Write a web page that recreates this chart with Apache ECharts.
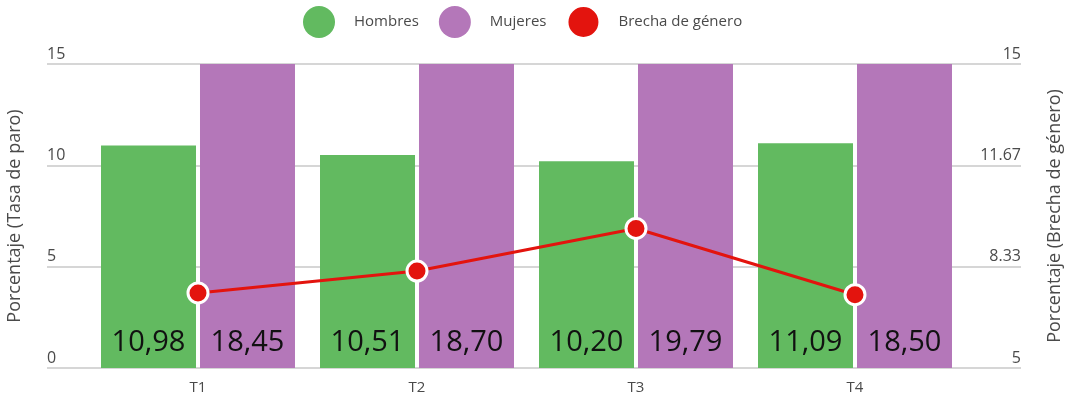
<!DOCTYPE html>
<html><head><meta charset="utf-8">
<script src="https://cdn.jsdelivr.net/npm/echarts@6/dist/echarts.min.js"></script>
<style>html,body{margin:0;padding:0;background:#fff}#c{width:1075px;height:400px}</style>
</head><body><div id="c"></div>
<script>
const categories = ['T1', 'T2', 'T3', 'T4'];
const hombres = [10.98, 10.51, 10.20, 11.09];
const mujeres = [18.45, 18.70, 19.79, 18.50];
const brecha = [7.47, 8.19, 9.59, 7.41];
const seriesNames = ['Hombres', 'Mujeres', 'Brecha de género'];
const leftName = 'Porcentaje (Tasa de paro)';
const rightName = 'Porcentaje (Brecha de género)';

const FONT = '"Open Sans", sans-serif';
const GREEN = '#62ba60', PURPLE = '#b477b9', RED = '#e3140e';
const chart = echarts.init(document.getElementById('c'));
const fmt = p => p.value.toFixed(2).replace('.', ',');
const barLabel = {show: true, position: 'insideBottom', distance: 11, color: '#111', fontSize: 29, fontFamily: FONT, formatter: fmt};

chart.setOption({
  animation: false,
  textStyle: {fontFamily: FONT},
  legend: {
    top: 0, left: 298, icon: 'circle', itemWidth: 32, itemHeight: 32, itemGap: 20,
    textStyle: {color: '#4a4a4a', fontSize: 15, fontFamily: FONT, padding: [0, 0, 0, 14]},
    data: seriesNames
  },
  grid: [
    {left: 47, right: 54, top: 64, bottom: 32, outerBoundsMode: 'none', containLabel: false},
    {left: 88.5, right: 110.5, top: 64, bottom: 32, outerBoundsMode: 'none', containLabel: false}
  ],
  xAxis: [
    {gridIndex: 0, type: 'category', data: categories, show: false},
    {gridIndex: 1, type: 'category', data: categories,
     axisLine: {show: false}, axisTick: {show: false},
     axisLabel: {color: '#4a4a4a', fontSize: 15, margin: 12, fontFamily: FONT}}
  ],
  yAxis: [
    {gridIndex: 0, type: 'value', min: 0, max: 15, interval: 5, position: 'left',
     axisLine: {show: false}, axisTick: {show: false},
     axisLabel: {inside: true, margin: 0, align: 'left', verticalAlign: 'bottom', padding: [0, 0, 2, 0], color: '#4a4a4a', fontSize: 16, fontFamily: FONT},
     splitLine: {lineStyle: {color: '#d6d6d6', width: 2}},
     name: leftName, nameLocation: 'middle', nameRotate: 90, nameGap: 23,
     nameTextStyle: {color: '#4a4a4a', fontSize: 18, fontFamily: FONT}},
    {gridIndex: 0, type: 'value', min: 5, max: 15, splitNumber: 3, interval: 10/3, position: 'right',
     axisLine: {show: false}, axisTick: {show: false},
     axisLabel: {inside: true, margin: 0, align: 'right', verticalAlign: 'bottom', padding: [0, 0, 2, 0], color: '#4a4a4a', fontSize: 16, fontFamily: FONT,
       formatter: v => (Math.round(v * 100) / 100).toString()},
     splitLine: {show: false},
     name: rightName, nameLocation: 'middle', nameRotate: 90, nameGap: 25,
     nameTextStyle: {color: '#4a4a4a', fontSize: 18, fontFamily: FONT}},
    {gridIndex: 1, type: 'value', min: 0, max: 15, show: false},
    {gridIndex: 1, type: 'value', min: 5, max: 15, show: false}
  ],
  series: [
    {name: seriesNames[0], type: 'bar', xAxisIndex: 1, yAxisIndex: 2, data: hombres,
     barWidth: 95, barGap: '4.2%', itemStyle: {color: GREEN}, label: barLabel, clip: true},
    {name: seriesNames[1], type: 'bar', xAxisIndex: 1, yAxisIndex: 2, data: mujeres,
     barWidth: 95, barGap: '4.2%', itemStyle: {color: PURPLE}, label: barLabel, clip: true},
    {name: seriesNames[2], type: 'line', xAxisIndex: 1, yAxisIndex: 3, data: brecha, z: 5,
     lineStyle: {color: RED, width: 3}, itemStyle: {color: RED, borderColor: '#fff', borderWidth: 3},
     symbol: 'circle', symbolSize: 20, showAllSymbol: true}
  ]
});
</script></body></html>
